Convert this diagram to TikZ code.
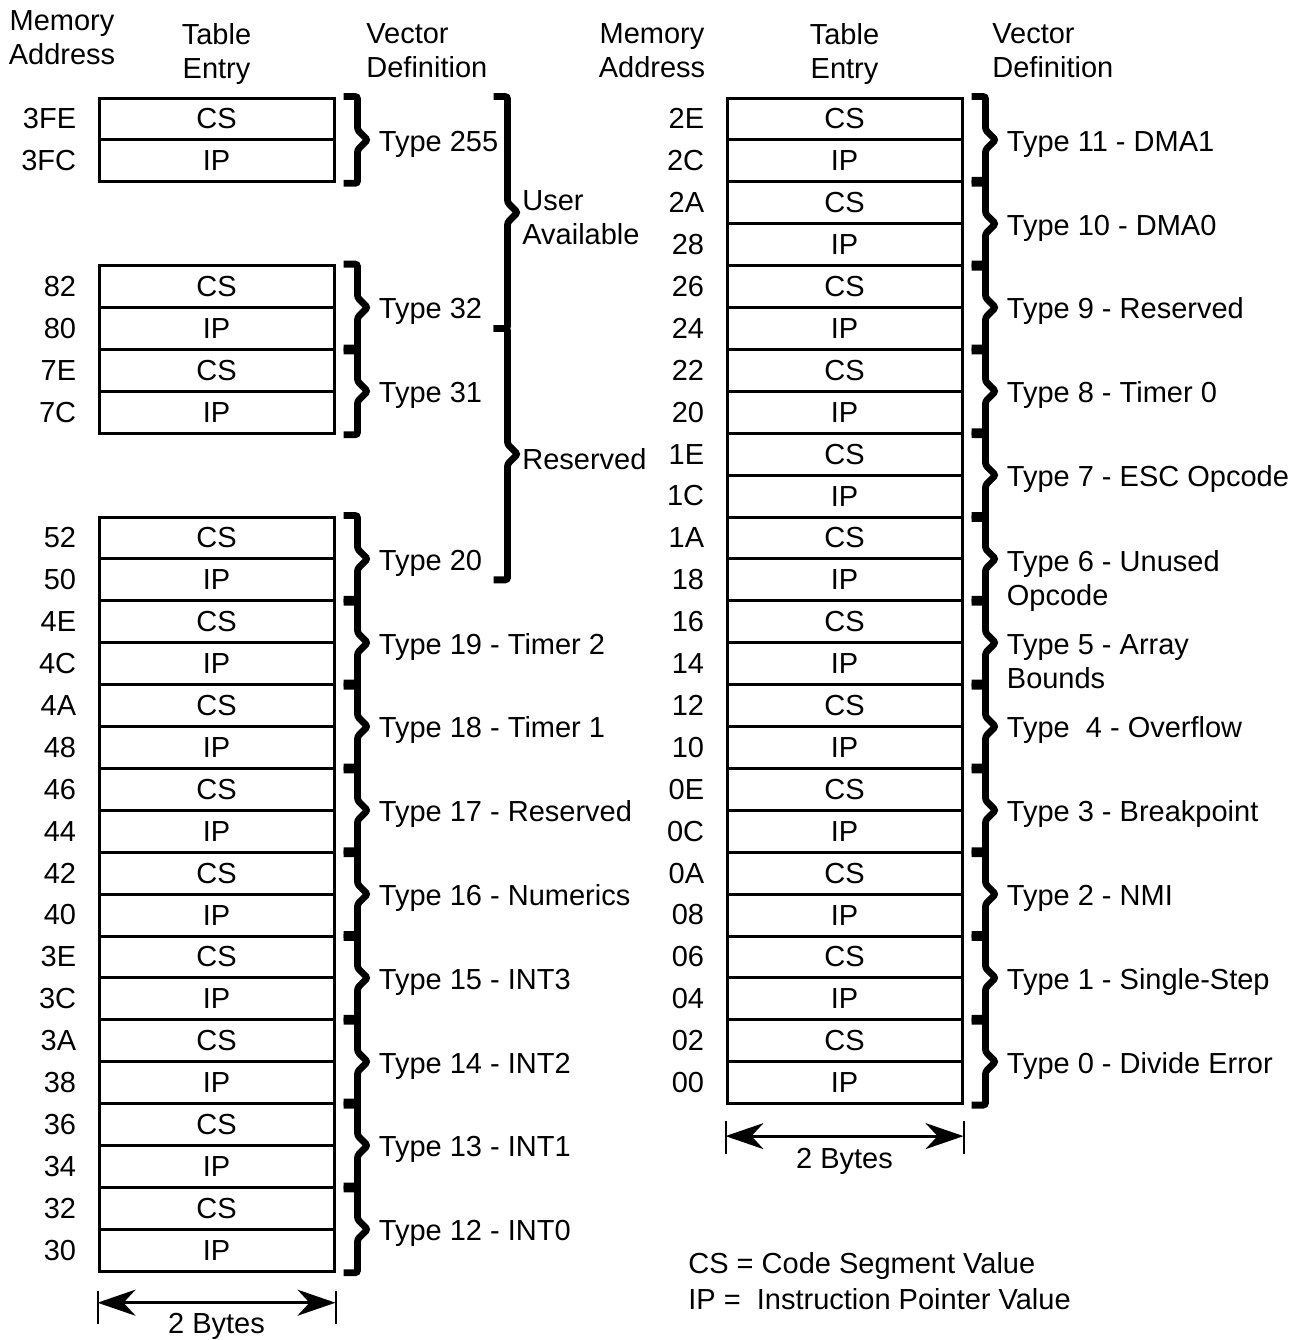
\documentclass[tikz,border=0pt]{standalone}
\usepackage{fontspec}
\setmainfont{Liberation Sans}
\usetikzlibrary{arrows.meta,calc,positioning}
\newcommand{\vecfont}{\fontsize{14.5}{17}\selectfont}
\tikzset{
  cell/.style={draw, line width=1.5pt, minimum width=117.5pt, minimum height=20.95pt, inner sep=0pt, font=\vecfont},
  addr/.style={inner sep=0pt, text height=9.9pt, text depth=0pt, font=\vecfont},
  vlabel/.style={anchor=west, inner sep=0pt, text height=9.9pt, text depth=0pt, font=\vecfont},
  head/.style={inner sep=0pt, font=\vecfont},
  brc/.style={line width=3.4pt, rounded corners=1.2pt,
    to path={-- ++(7pt,0)
      -- ($(\tikztostart)!0.5!(\tikztotarget)+(7pt,5pt)$)
      -- ($(\tikztostart)!0.5!(\tikztotarget)+(12pt,0pt)$)
      -- ($(\tikztostart)!0.5!(\tikztotarget)+(7pt,-5pt)$)
      -- ($(\tikztotarget)+(7pt,0)$) -- (\tikztotarget)}},
  dimline/.style={line width=1.4pt, {Stealth[length=19pt,width=13pt,inset=6pt]}-{Stealth[length=19pt,width=13pt,inset=6pt]}},
  dimtick/.style={line width=1pt},
}

\begin{document}
\begin{tikzpicture}[x=0.5pt, y=-0.5pt]
\useasboundingbox (0,0) rectangle (1303,1340);

% headers
\node[head, align=center, anchor=north] (hmemL) at (62,10) {Memory\\Address};
\node[head, align=center, anchor=north] (htabL) at (216.5,23) {Table\\Entry};
\node[head, align=left, anchor=north west] (hvecL) at (366,23) {Vector\\Definition};
\node[head, align=center, anchor=north] (hmemR) at (652,23) {Memory\\Address};
\node[head, align=center, anchor=north] (htabR) at (844.5,23) {Table\\Entry};
\node[head, align=left, anchor=north west] (hvecR) at (992,23) {Vector\\Definition};

% left table
\foreach \k/\a in {0/3FE,1/3FC,4/82,5/80,6/7E,7/7C,10/52,11/50,12/4E,13/4C,14/4A,15/48,16/46,17/44,18/42,19/40,20/3E,21/3C,22/3A,23/38,24/36,25/34,26/32,27/30}{
  \node[cell] (L\k) at (216.5,{118.95+41.9*\k}) {\ifodd\k\relax IP\else CS\fi};
  \node[addr, left=10.5pt of L\k] (aL\k) {\a};
}

% right table
\foreach \k/\a in {0/2E,1/2C,2/2A,3/28,4/26,5/24,6/22,7/20,8/1E,9/1C,10/1A,11/18,12/16,13/14,14/12,15/10,16/0E,17/0C,18/0A,19/08,20/06,21/04,22/02,23/00}{
  \node[cell] (R\k) at (844.5,{118.95+41.9*\k}) {\ifodd\k\relax IP\else CS\fi};
  \node[addr, left=10.5pt of R\k] (aR\k) {\a};
}

% vector braces, left
\foreach \k/\t in {0/Type 255,4/Type 32,6/Type 31,10/Type 20,12/Type 19 - Timer 2,14/Type 18 - Timer 1,16/Type 17 - Reserved,18/Type 16 - Numerics,20/Type 15 - INT3,22/Type 14 - INT2,24/Type 13 - INT1,26/Type 12 - INT0}{
  \pgfmathtruncatemacro\n{\k+1}
  \draw[brc] ([xshift=4pt]L\k.north east) to ([xshift=4pt]L\n.south east);
  \node[vlabel] (tL\k) at ([xshift=21.5pt]L\k.south east) {\t};
}

% vector braces, right
\foreach \k in {0,2,...,22}{
  \pgfmathtruncatemacro\n{\k+1}
  \draw[brc] ([xshift=4pt]R\k.north east) to ([xshift=4pt]R\n.south east);
}
\foreach \k/\t in {0/Type 11 - DMA1,2/Type 10 - DMA0,4/Type 9 - Reserved,6/Type 8 - Timer 0,8/Type 7 - ESC Opcode,14/Type\ \ 4 - Overflow,16/Type 3 - Breakpoint,18/Type 2 - NMI,20/Type 1 - Single-Step,22/Type 0 - Divide Error}{
  \node[vlabel] (tR\k) at ([xshift=21.5pt]R\k.south east) {\t};
}
\node[head, align=left, anchor=north west] (tR10) at ([xshift=21.5pt,yshift=5pt]R10.south east) {Type 6 - Unused\\Opcode};
\node[head, align=left, anchor=north west] (tR12) at ([xshift=21.5pt,yshift=5pt]R12.south east) {Type 5 - Array\\Bounds};

% user / reserved
\draw[brc] ([xshift=79pt]L0.north east) to ([xshift=79pt]L5.east);
\draw[brc] ([xshift=79pt]L5.east) to ([xshift=79pt]L11.east);
\node[head, align=left, anchor=north west] (usr) at (522,190) {User\\Available};
\node[vlabel] (rsv) at (522,460) {Reserved};

% 2 bytes, left
\coordinate (dLa) at ([yshift=-9pt]L27.south west);
\coordinate (dLb) at ([yshift=-25.5pt]L27.south west);
\coordinate (dLc) at ([yshift=-9pt]L27.south east);
\coordinate (dLd) at ([yshift=-25.5pt]L27.south east);
\coordinate (dLl) at ([yshift=-15pt]L27.south west);
\coordinate (dLr) at ([yshift=-15pt]L27.south east);
\draw[dimtick] (dLa) -- (dLb);
\draw[dimtick] (dLc) -- (dLd);
\draw[dimline] (dLl) -- (dLr);
\node[head, anchor=base] (bL) at ([yshift=-30.5pt]L27.south) {2 Bytes};

% 2 bytes, right
\coordinate (dRa) at ([yshift=-8pt]R23.south west);
\coordinate (dRb) at ([yshift=-24.5pt]R23.south west);
\coordinate (dRc) at ([yshift=-8pt]R23.south east);
\coordinate (dRd) at ([yshift=-24.5pt]R23.south east);
\coordinate (dRl) at ([yshift=-15.5pt]R23.south west);
\coordinate (dRr) at ([yshift=-15.5pt]R23.south east);
\draw[dimtick] (dRa) -- (dRb);
\draw[dimtick] (dRc) -- (dRd);
\draw[dimline] (dRl) -- (dRr);
\node[head, anchor=base] (bR) at ([yshift=-31.5pt]R23.south) {2 Bytes};

% legend
\node[head, align=left, anchor=north west] (leg) at (688,1252) {CS = Code Segment Value\\[1pt]IP = \ Instruction Pointer Value};
\end{tikzpicture}
\end{document}
